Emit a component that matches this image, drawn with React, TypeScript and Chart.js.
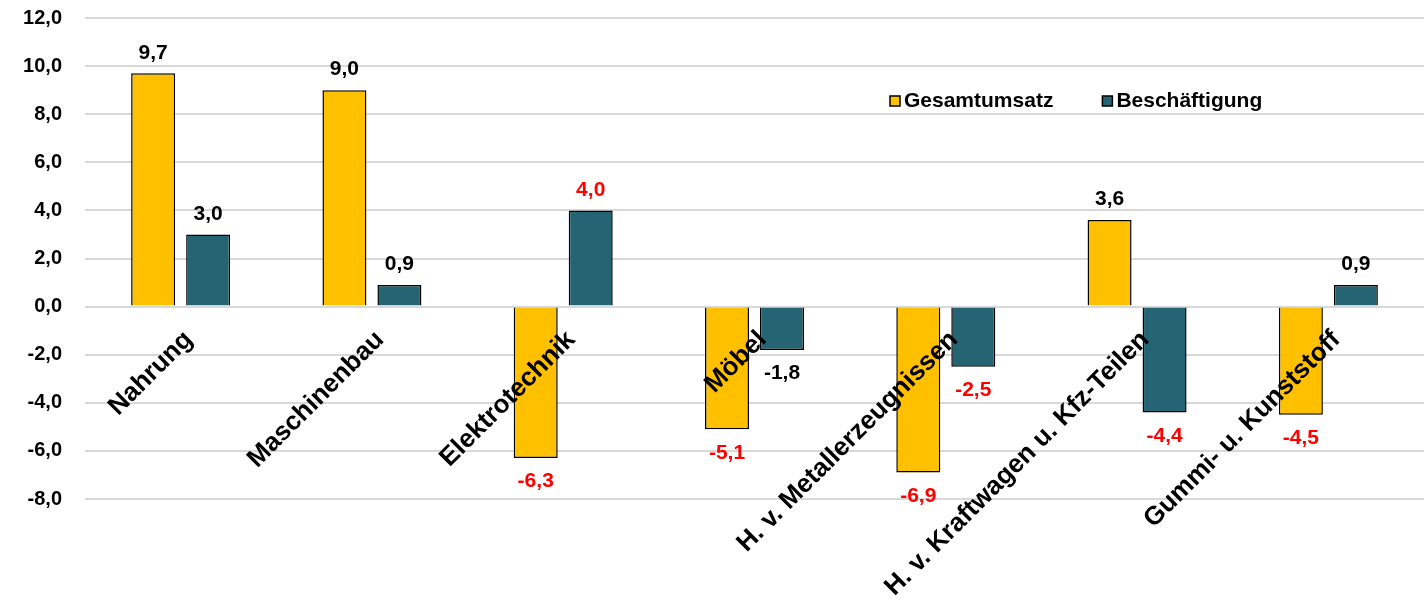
import { useEffect, useRef } from "react";
import { Chart, registerables } from "chart.js";

Chart.register(...registerables);

const categories = [
  "Nahrung",
  "Maschinenbau",
  "Elektrotechnik",
  "Möbel",
  "H. v. Metallerzeugnissen",
  "H. v. Kraftwagen u. Kfz-Teilen",
  "Gummi- u. Kunststoff",
];
const gesamtumsatz = [9.7, 9.0, -6.3, -5.1, -6.9, 3.6, -4.5];
const beschaeftigung = [3.0, 0.9, 4.0, -1.8, -2.5, -4.4, 0.9];
const gesamtumsatzLabelColors = ["#000000", "#000000", "#ff0000", "#ff0000", "#ff0000", "#000000", "#ff0000"];
const beschaeftigungLabelColors = ["#000000", "#000000", "#ff0000", "#000000", "#ff0000", "#ff0000", "#000000"];
const seriesNames = ["Gesamtumsatz", "Beschäftigung"];
const yMin = -8;
const yMax = 12;
const yStep = 2;

const FONT = "'Liberation Sans', Arial, sans-serif";
const YELLOW = "#FFC000";
const TEAL = "#256473";

const fmt = (v: number) => v.toFixed(1).replace(".", ",");

const dataLabelPlugin = {
  id: "dataLabels",
  afterDatasetsDraw(chart: any) {
    const ctx = chart.ctx;
    ctx.save();
    ctx.font = `bold 21px ${FONT}`;
    ctx.textAlign = "center";
    chart.data.datasets.forEach((ds: any, di: number) => {
      const meta = chart.getDatasetMeta(di);
      meta.data.forEach((el: any, i: number) => {
        const v = ds.data[i];
        ctx.fillStyle = ds.labelColors[i];
        if (v >= 0) {
          ctx.textBaseline = "bottom";
          ctx.fillText(fmt(v), el.x, el.y - 10);
        } else {
          ctx.textBaseline = "top";
          ctx.fillText(fmt(v), el.x, el.y + 13);
        }
      });
    });
    ctx.restore();
  },
};

const legendPlugin = {
  id: "insideLegend",
  afterDraw(chart: any) {
    const ctx = chart.ctx;
    const area = chart.chartArea;
    ctx.save();
    ctx.font = `bold 21px ${FONT}`;
    ctx.textBaseline = "middle";
    ctx.textAlign = "left";
    const y = area.top + 83;
    let x = area.left + 805;
    chart.data.datasets.forEach((ds: any) => {
      ctx.fillStyle = ds.backgroundColor;
      ctx.fillRect(x, y - 5, 10, 10);
      ctx.strokeStyle = "#000";
      ctx.lineWidth = 1.5;
      ctx.strokeRect(x, y - 5, 10, 10);
      ctx.fillStyle = "#000";
      ctx.fillText(ds.label, x + 14, y);
      x += 14 + ctx.measureText(ds.label).width + 49;
    });
    ctx.restore();
  },
};

export default function App() {
  const ref = useRef<HTMLCanvasElement>(null);
  useEffect(() => {
    document.body.style.margin = "0";
    const chart = new Chart(ref.current!, {
      type: "bar",
      data: {
        labels: categories,
        datasets: [
          {
            label: seriesNames[0],
            data: gesamtumsatz,
            backgroundColor: YELLOW,
            borderColor: "#000",
            borderWidth: 1.5,
            categoryPercentage: 0.575,
            barPercentage: 0.8,
            labelColors: gesamtumsatzLabelColors,
          } as any,
          {
            label: seriesNames[1],
            data: beschaeftigung,
            backgroundColor: TEAL,
            borderColor: "#000",
            borderWidth: 1.5,
            categoryPercentage: 0.575,
            barPercentage: 0.8,
            labelColors: beschaeftigungLabelColors,
          } as any,
        ],
      },
      options: {
        animation: false,
        responsive: false,
        layout: { padding: { top: 18, bottom: 103, left: 0, right: 0 } },
        plugins: {
          legend: { display: false },
          tooltip: { enabled: false },
        },
        scales: {
          x: {
            position: { y: 0 } as any,
            grid: { display: false, drawTicks: false },
            border: { display: false },
            ticks: {
              z: 1,
              autoSkip: false,
              minRotation: 45,
              maxRotation: 45,
              padding: 18,
              labelOffset: 8,
              color: "#000",
              font: { family: FONT, size: 26, weight: "bold" },
            },
          },
          y: {
            min: yMin,
            max: yMax,
            afterFit: (scale: any) => {
              scale.width = 85;
              scale.paddingTop = 0;
              scale.paddingBottom = 0;
            },
            grid: { color: "#d9d9d9", lineWidth: 2, drawTicks: false },
            border: { display: false },
            ticks: {
              stepSize: yStep,
              padding: 23,
              color: "#000",
              font: { family: FONT, size: 20, weight: "bold" },
              callback: (v: any) => fmt(Number(v)),
            },
          },
        },
      },
      plugins: [dataLabelPlugin, legendPlugin],
    });
    return () => chart.destroy();
  }, []);
  return <canvas ref={ref} width={1424} height={602} style={{ display: "block" }} />;
}
